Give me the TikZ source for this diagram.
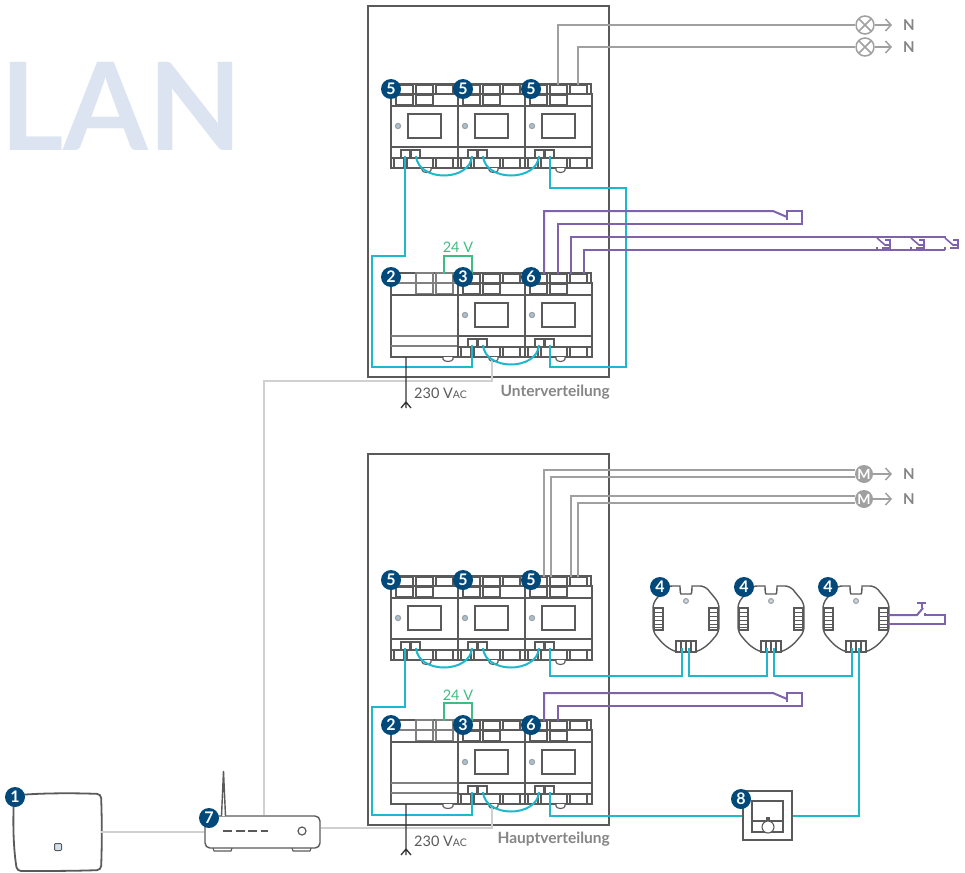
\documentclass[tikz,border=0pt]{standalone}
\usepackage{fontspec}
\setmainfont{Lato}
\usepackage{tikz}
\usetikzlibrary{arrows.meta}
\definecolor{devgray}{HTML}{5A5A5A}
\definecolor{psugray}{HTML}{808080}
\definecolor{busblue}{HTML}{1DB8CE}
\definecolor{swviolet}{HTML}{7F62AC}
\definecolor{lowgreen}{HTML}{3DBD82}
\definecolor{langray}{HTML}{D0D0D0}
\definecolor{loadgray}{HTML}{A0A0A0}
\definecolor{ttlgray}{HTML}{858585}
\definecolor{badgeblue}{HTML}{00497A}
\definecolor{lanblue}{HTML}{DBE4F0}
\definecolor{ledblue}{HTML}{A9C3D6}
\tikzstyle{dev} = [draw=devgray,line width=1.4pt,fill=white]
\tikzstyle{fine} = [draw=devgray,line width=1.1pt]
\tikzstyle{bus} = [draw=busblue,line width=2pt]
\tikzstyle{sw} = [draw=swviolet,line width=2pt]
\tikzstyle{low} = [draw=lowgreen,line width=2pt]
\tikzstyle{lan} = [draw=langray,line width=2pt]
\tikzstyle{load} = [draw=loadgray,line width=2pt]
\tikzstyle{badge} = [circle,fill=badgeblue,text=white,inner sep=0pt,minimum size=20pt,font=\fontsize{16}{16}\selectfont\bfseries]
\tikzstyle{lamp} = [circle,draw=loadgray,line width=1.5pt,fill=white,inner sep=0pt,minimum size=18pt,
  path picture={\draw[loadgray,line width=1.5pt] (path picture bounding box.north west) -- (path picture bounding box.south east)
  (path picture bounding box.north east) -- (path picture bounding box.south west);}]
\tikzstyle{motor} = [circle,fill=loadgray,text=white,inner sep=0pt,minimum size=18pt,font=\fontsize{14}{14}\selectfont\bfseries]
\tikzstyle{lbl} = [text=ttlgray,inner sep=0pt,font=\fontsize{15}{15}\selectfont\bfseries]
\tikzstyle{ttl} = [text=ttlgray,inner sep=0pt,font=\fontsize{15.5}{15.5}\selectfont\bfseries]
\tikzstyle{vlt} = [text=devgray,inner sep=0pt,font=\fontsize{14.5}{14.5}\selectfont]
\tikzstyle{grn} = [text=lowgreen,inner sep=0pt,font=\fontsize{14.5}{14.5}\selectfont]
\newcommand{\vac}{230 V{\fontsize{10.5}{10.5}\selectfont AC}}
\tikzset{
  din/.pic={
    \draw[dev] (0,10) rectangle (67,84);
    \draw[dev] (1,0) rectangle (66,10);
    \draw[fine] (5,1) rectangle (22,10) (25,1) rectangle (42,10) (45,1) rectangle (62,10);
    \draw[fine] (5,11) rectangle (22,21) (25,11) rectangle (42,21);
    \draw[dev] (0,22) -- (67,22) (0,63) -- (67,63) (0,74) -- (67,74);
    \draw[dev,line width=1.5pt] (17,30) rectangle (50,54);
    \draw[fine,draw=loadgray,fill=ledblue] (7,42) circle (2.6pt);
    \draw[fine,fill=white] (10,66) rectangle (19,74) (20,66) rectangle (29,74);
    \draw[fine] (3,74) rectangle (13,84) (16,74) rectangle (42,84) (45,74) rectangle (62,84);
    \draw[fine,fill=white] (31,84) -- (31,86) arc[start angle=180,end angle=360,x radius=4.5pt,y radius=2.5pt] -- (40,84);
    \coordinate (-lo1) at (14,72);
    \coordinate (-lo2) at (25,72);
    \coordinate (-g) at (34,87);
    \coordinate (-s) at (14,1);
    \coordinate (-t1) at (19,1);
    \coordinate (-t2) at (26,1);
    \coordinate (-t3) at (33,1);
    \coordinate (-t4) at (46,1);
    \coordinate (-t5) at (53,1);
    \coordinate (-t6) at (59,1);
  },
  psu/.pic={
    \draw[dev] (0,0) rectangle (67,84);
    \draw[fine,draw=psugray] (25,0) rectangle (42,10) (45,0) rectangle (62,10);
    \draw[fine,draw=psugray] (25,10) rectangle (42,21) (45,10) rectangle (62,21);
    \draw[fine,draw=psugray] (0,10) -- (67,10);
    \draw[dev] (0,22) -- (67,22);
    \draw[fine,draw=psugray] (0,63) -- (67,63) (0,73) -- (67,73);
    \draw[fine,fill=white] (52,84) -- (52,86) arc[start angle=180,end angle=360,x radius=5pt,y radius=2.5pt] -- (62,84);
    \coordinate (-t) at (53,1);
    \coordinate (-p) at (15,84);
  },
  actor/.pic={
    \draw[dev,rounded corners=5pt] (-11,0) .. controls (-6,0) and (-6,8) .. (0,8) .. controls (6,8) and (6,0) .. (11,0)
      -- (19,0) -- (33,17) -- (33,46) -- (22,59) -- (11,66) -- (-11,66) -- (-22,59) -- (-33,46) -- (-33,17) -- (-19,0) -- cycle;
    \draw[fine,draw=loadgray,fill=ledblue!60] (0,15) circle (2.4pt);
    \draw[fine,fill=white] (-32,22) rectangle (-23,44) (23,22) rectangle (32,44) (-10,55) rectangle (10,66);
    \foreach \i in {26,30,34,38,41} {\draw[fine,line width=0.7pt] (-32,\i) -- (-23,\i) (23,\i) -- (32,\i);}
    \draw[fine] (-5,55) -- (-5,66) (0,55) -- (0,66) (5,55) -- (5,66);
    \coordinate (-a) at (-4,62);
    \coordinate (-b) at (3,62);
    \coordinate (-r1) at (32,29);
    \coordinate (-r2) at (32,38);
  },
  pulse/.pic={
    \draw[sw,line width=1.6pt] (0,1) -- (8,8) -- (13,8) (8,3) -- (13,3) -- (13,11) -- (5,11) (0,10) -- (0,13);
  }
}

\begin{document}
\begin{tikzpicture}[x=1pt,y=-1pt,>={Straight Barb[length=5.5pt,width=12pt]}]
\useasboundingbox (0,0) rectangle (965,872);

% background word and cabinets

    \node[anchor=base west,inner sep=0pt,text=lanblue,font=\fontsize{122}{122}\selectfont\bfseries] at (0,150) (word) {LAN};
    \node[draw=devgray,line width=1.4pt,minimum width=241pt,minimum height=371pt,inner sep=0pt] at (488.5,191.5) (cabU) {};
    \node[draw=devgray,line width=1.4pt,minimum width=241pt,minimum height=371pt,inner sep=0pt] at (488.5,639.5) (cabH) {};

% modules

    \pic (ua1) at (391,84) {din};
    \pic (ua2) at (458,84) {din};
    \pic (ua3) at (525,84) {din};
    \pic (ub1) at (391,273) {psu};
    \pic (ub2) at (458,273) {din};
    \pic (ub3) at (525,273) {din};
    \pic (ha1) at (391,576) {din};
    \pic (ha2) at (458,576) {din};
    \pic (ha3) at (525,576) {din};
    \pic (hb1) at (391,720) {psu};
    \pic (hb2) at (458,720) {din};
    \pic (hb3) at (525,720) {din};

    \pic (act1) at (686,586) {actor};
    \pic (act2) at (771,586) {actor};
    \pic (act3) at (856,586) {actor};

% field devices

    \node[lamp] at (865,25) (lampA) {};
    \node[lamp] at (865,47) (lampB) {};
    \node[motor] at (864,474) (motA) {M};
    \node[motor] at (864,499) (motB) {M};
    \node[lbl] at (909,25) (nA) {N};
    \node[lbl] at (909,47) (nB) {N};
    \node[lbl] at (909,474) (nC) {N};
    \node[lbl] at (909,499) (nD) {N};
    \draw[->,load,line width=1.5pt,shorten >=11pt] (lampA) -- (nA);
    \draw[->,load,line width=1.5pt,shorten >=11pt] (lampB) -- (nB);
    \draw[->,load,line width=1.5pt,shorten >=11pt] (motA) -- (nC);
    \draw[->,load,line width=1.5pt,shorten >=11pt] (motB) -- (nD);

    \node[minimum width=87pt,minimum height=78pt,inner sep=0pt] at (57.5,832) (hub) {};
    \draw[draw=devgray,line width=1.8pt,rounded corners=4pt] (19,795) .. controls (45,793) and (75,793) .. (101,794)
      .. controls (102,820) and (102,845) .. (101,870) .. controls (75,871) and (45,871) .. (17,871)
      .. controls (13,845) and (13,820) .. (14,797) -- cycle;
    \node[draw=devgray,fill=ledblue!50,line width=1pt,rounded corners=1pt,minimum size=7pt,inner sep=0pt] at (58,847) (hubled) {};
    \node[dev,rounded corners=5pt,minimum width=115pt,minimum height=32pt,inner sep=0pt] at (262.5,832) (rtr) {};
    \node[draw=devgray,line width=1.2pt,circle,minimum size=8pt,inner sep=0pt] at (302,831) (rtrled) {};
    \coordinate (ant) at (223.5,771);
    \draw[dev] (221.5,816) -- (ant) -- (225.5,816);
    \draw[dev,dash pattern=on 9pt off 3.5pt] (223,831) -- (268,831);
    \draw[fine] (213,848) -- (214,851) -- (231,851) -- (232,848);
    \draw[fine] (292,848) -- (293,851) -- (310,851) -- (311,848);

    \node[dev,minimum size=49pt,inner sep=0pt] at (767.5,815.5) (sensor) {};
    \node[fine,line width=1.3pt,minimum size=31pt,inner sep=0pt] at (767.5,816.5) (dial) {};
    \draw[fine] (dial.west |- 0,821) -- (dial.east |- 0,821);
    \node[fine,circle,fill=white,minimum size=12pt,inner sep=0pt] at (768,827) (knob) {};
    \node[fine,fill=devgray,minimum size=3pt,inner sep=0pt] at (768,819) (mark) {};

% LAN

    \draw[lan] (hub.east) -- (hub.east -| rtr.west);
    \draw[lan] ([xshift=1.5pt]rtr.north) |- (492,381) -- (ub2-g);
    \draw[lan] ([yshift=4pt]rtr.east) -| (hb2-g);

% bus

    \draw[bus] (ua1-lo1) |- (372,256) |- (472,367) -- (ub2-lo1);
    \draw[bus] (ua1-lo2) .. controls +(2,26) and +(-2,26) .. (ua2-lo1);
    \draw[bus] (ua2-lo2) .. controls +(2,26) and +(-2,26) .. (ua3-lo1);
    \draw[bus] (ua3-lo2) |- (626,188) |- (550,367) -- (ub3-lo2);
    \draw[bus] (ub2-lo2) .. controls +(2,26) and +(-2,26) .. (ub3-lo1);

    \draw[bus] (ha1-lo1) |- (372,707) |- (472,815) -- (hb2-lo1);
    \draw[bus] (ha1-lo2) .. controls +(2,26) and +(-2,26) .. (ha2-lo1);
    \draw[bus] (ha2-lo2) .. controls +(2,26) and +(-2,26) .. (ha3-lo1);
    \draw[bus] (hb2-lo2) .. controls +(2,26) and +(-2,26) .. (hb3-lo1);
    \draw[bus] (ha3-lo2) |- (682,676) -- (act1-a);
    \draw[bus] (act1-b) |- (767,676) -- (act2-a);
    \draw[bus] (act2-b) |- (852,676) -- (act3-a);
    \draw[bus] (act3-b) |- (sensor.east);
    \draw[bus] (hb3-lo2) |- (sensor.west);

% 24 V and mains

    \node[grn] at (458,247) (vU) {24 V};
    \node[grn] at (458,695) (vH) {24 V};
    \draw[low] (ub1-t) |- (472,256) -- (ub2-s);
    \draw[low] (hb1-t) |- (472,703) -- (hb2-s);

    \coordinate (forkU) at (406,408);
    \coordinate (forkH) at (406,855);
    \draw[draw=black!80,line width=1.3pt] (ub1-p) -- (forkU) (406,402) -- (401,408) (406,402) -- (411,408);
    \draw[draw=black!80,line width=1.3pt] (hb1-p) -- (forkH) (406,849) -- (401,855) (406,849) -- (411,855);
    \node[vlt,anchor=west] at (414,393) (mainsU) {\vac};
    \node[vlt,anchor=west] at (414,841) (mainsH) {\vac};
    \node[ttl,anchor=east] at (610,392) (titleU) {Unterverteilung};
    \node[ttl,anchor=east] at (610,839) (titleH) {Hauptverteilung};

% loads

    \draw[load] (ua3-t3) |- (lampA);
    \draw[load] (ua3-t5) |- (lampB);
    \draw[load] (ha3-t1) |- ([yshift=4pt]motA.west);
    \draw[load] (ha3-t2) |- ([yshift=-3pt]motA.west);
    \draw[load] (ha3-t4) |- ([yshift=3pt]motB.west);
    \draw[load] (ha3-t5) |- ([yshift=-4pt]motB.west);

% switches

    \draw[sw] (ub3-t1) |- (773,211) -- (787,217);
    \draw[sw] (ub3-t3) |- (802,224) |- (787,211) -- (787,220);
    \draw[sw] (ub3-t4) |- (945,237) -- ++(0,1);
    \draw[sw] (ub3-t6) |- (945,250);
    \pic at (877,237) {pulse};
    \pic at (911,237) {pulse};
    \pic at (945,237) {pulse};

    \draw[sw] (hb3-t1) |- (773,693) -- (787,699);
    \draw[sw] (hb3-t3) |- (802,706) |- (787,693) -- (787,702);

    \draw[sw] (act3-r1) -- (917,615) -- (923,608);
    \draw[sw] (922,603) -- (922,608) (917,603) -- (926,603);
    \draw[sw] (925,613) -- (925,615) -- (945,615) |- (act3-r2);

% badges

    \node[badge] at (15,797) (bdgHub) {1};
    \node[badge] at (391,277) (bdgU2) {2};
    \node[badge] at (463,277) (bdgU3) {3};
    \node[badge] at (531,277) (bdgU6) {6};
    \node[badge] at (391,89) (bdgU5a) {5};
    \node[badge] at (463,89) (bdgU5b) {5};
    \node[badge] at (531,89) (bdgU5c) {5};
    \node[badge] at (391,580) (bdgH5a) {5};
    \node[badge] at (463,580) (bdgH5b) {5};
    \node[badge] at (531,580) (bdgH5c) {5};
    \node[badge] at (391,725) (bdgH2) {2};
    \node[badge] at (463,725) (bdgH3) {3};
    \node[badge] at (531,725) (bdgH6) {6};
    \node[badge] at (660,587) (bdgA1) {4};
    \node[badge] at (744,587) (bdgA2) {4};
    \node[badge] at (828,587) (bdgA3) {4};
    \node[badge] at (209,818) (bdgRtr) {7};
    \node[badge] at (741,799) (bdgSns) {8};

\end{tikzpicture}
\end{document}
